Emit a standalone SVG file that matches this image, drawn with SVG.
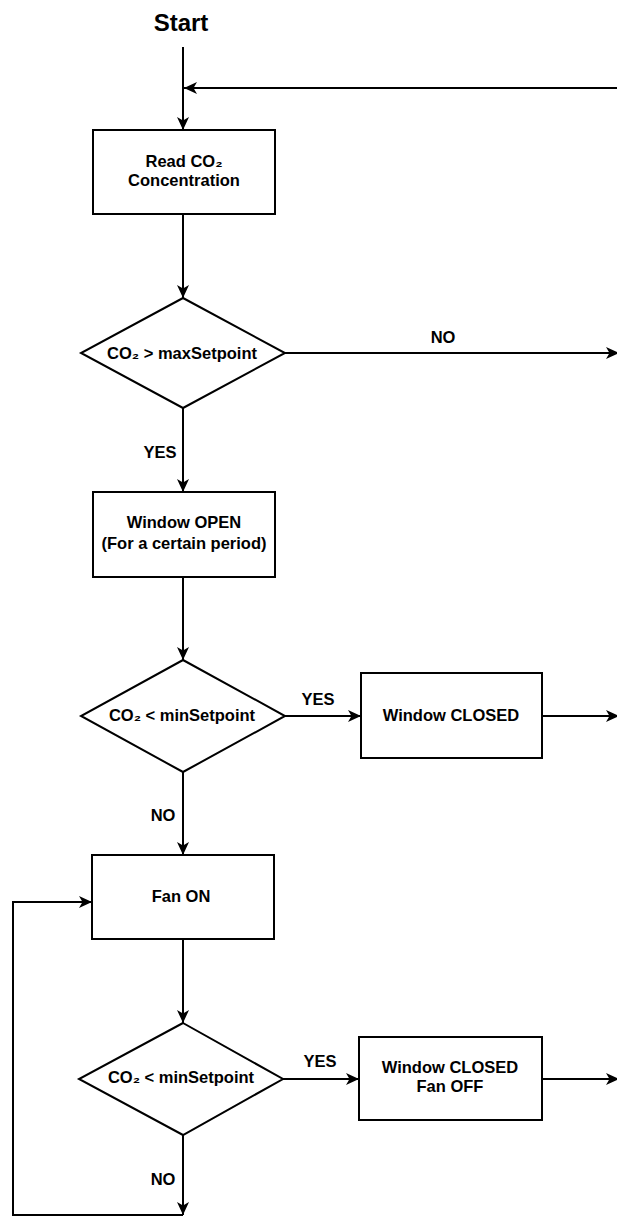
<svg xmlns="http://www.w3.org/2000/svg" width="617" height="1217" viewBox="0 0 617 1217">
<style>
text{font-family:"Liberation Sans",Arial,sans-serif;font-weight:bold;fill:#000;text-anchor:middle;font-size:16.5px}
.shape{fill:#fff;stroke:#000;stroke-width:2}
.edge{fill:none;stroke:#000;stroke-width:2}
.start{font-size:24px}
</style>
<defs>
<marker id="arr" markerUnits="userSpaceOnUse" markerWidth="16" markerHeight="14" viewBox="-1 -7 16 14" refX="13" refY="0" orient="auto">
<path d="M0,-6 L13,0 L0,6 L3.5,0 Z" fill="#000"/>
</marker>
</defs>
<g id="start"><text class="start" x="181" y="31">Start</text></g>
<g id="connectors">
<path class="edge" d="M183,47 V130" marker-end="url(#arr)"/>
<path class="edge" d="M617,88 H184" marker-end="url(#arr)"/>
<path class="edge" d="M183,214 V298" marker-end="url(#arr)"/>
<path class="edge" d="M285,353 H619" marker-end="url(#arr)"/>
<path class="edge" d="M183,408 V492" marker-end="url(#arr)"/>
<path class="edge" d="M183,577 V660" marker-end="url(#arr)"/>
<path class="edge" d="M285,716 H361" marker-end="url(#arr)"/>
<path class="edge" d="M542,716 H619" marker-end="url(#arr)"/>
<path class="edge" d="M183,772 V855" marker-end="url(#arr)"/>
<path class="edge" d="M183,939 V1023" marker-end="url(#arr)"/>
<path class="edge" d="M283,1079 H359" marker-end="url(#arr)"/>
<path class="edge" d="M542,1079 H619" marker-end="url(#arr)"/>
<path class="edge" d="M183,1135 V1215" marker-end="url(#arr)"/>
<path class="edge" d="M183,1215 H13 V902 H92" marker-end="url(#arr)"/>
<text x="443" y="343">NO</text>
<text x="160" y="458">YES</text>
<text x="318" y="705">YES</text>
<text x="163" y="821">NO</text>
<text x="320" y="1067">YES</text>
<text x="163" y="1185">NO</text>
</g>
<g id="read">
<rect class="shape" x="93" y="130" width="182" height="84"/>
<text x="184" y="167">Read CO₂</text>
<text x="184" y="186">Concentration</text>
</g>
<g id="dec1">
<polygon class="shape" points="183,298 285,353 183,408 81,353"/>
<text x="182" y="359">CO₂ &gt; maxSetpoint</text>
</g>
<g id="open">
<rect class="shape" x="93" y="492" width="182" height="85"/>
<text x="184" y="528">Window OPEN</text>
<text x="184" y="549">(For a certain period)</text>
</g>
<g id="dec2">
<polygon class="shape" points="183,660 285,716 183,772 81,716"/>
<text x="182" y="721">CO₂ &lt; minSetpoint</text>
</g>
<g id="closed1">
<rect class="shape" x="361" y="673" width="181" height="85"/>
<text x="451" y="721">Window CLOSED</text>
</g>
<g id="fan">
<rect class="shape" x="92" y="855" width="182" height="84"/>
<text x="181" y="902">Fan ON</text>
</g>
<g id="dec3">
<polygon class="shape" points="183,1023 283,1079 183,1135 79,1079"/>
<text x="181" y="1083">CO₂ &lt; minSetpoint</text>
</g>
<g id="closed2">
<rect class="shape" x="359" y="1037" width="183" height="83"/>
<text x="450" y="1073">Window CLOSED</text>
<text x="450" y="1092">Fan OFF</text>
</g>
</svg>
